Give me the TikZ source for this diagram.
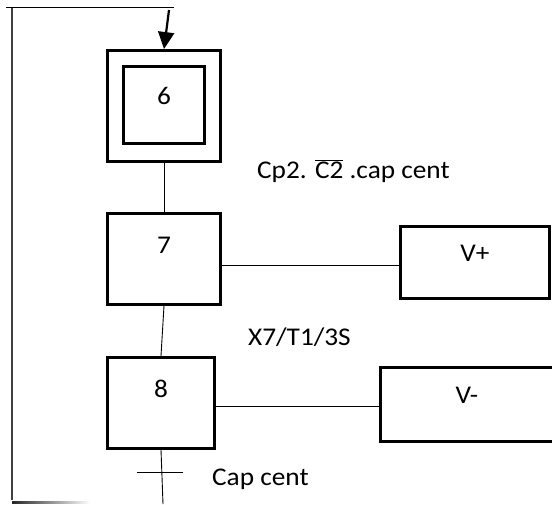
\documentclass[tikz,border=0pt]{standalone}
\usepackage{fontspec}
\setmainfont{Carlito}[FakeStretch=1.07]
\usepackage{tikz}
\usetikzlibrary{positioning,arrows.meta}
\definecolor{cLine}{HTML}{000000}
\definecolor{cLoop}{HTML}{404040}
\tikzset{
  >={Triangle[length=17pt,width=16pt]},
  gbox/.style={draw=cLine,line width=2.9pt,inner sep=0pt,align=center,
               text height=15pt},
  gstep/.style ={gbox,text depth=25pt},
  gact/.style  ={gbox,text depth=17pt},
  glink/.style ={cLine,line width=0.9pt},
  gloop/.style ={cLoop,line width=1.4pt},
}

\begin{document}
\begin{tikzpicture}[x=1pt,y=-1pt,font=\fontsize{25.5}{29}\selectfont]
  \useasboundingbox (0,0) rectangle (552,504);
  % steps
  \node[gbox,minimum width=113pt,minimum height=111pt] (s6) at (164,106) {};
  \node[gbox,text depth=17pt,minimum width=81pt,minimum height=77pt] (in6) at (164,105) {6};
  \node[gstep,minimum width=113pt,minimum height=91pt,below=49pt of s6] (s7) {7};
  \node[gstep,minimum width=107pt,minimum height=91pt,below=50pt of s7,xshift=-3pt] (s8) {8};
  % actions
  \node[gact,minimum width=149pt,minimum height=72pt,right=177pt of s7,yshift=-3.5pt] (vp) {V+};
  \node[gact,minimum width=173pt,minimum height=74pt,right=163pt of s8,yshift=-1.5pt] (vm) {V-};
  % loop back
  \coordinate (lt) at (6,7);
  \coordinate (lc) at (12,7);
  \coordinate (lb) at (12,500);
  \coordinate (rt) at (174,7);
  \coordinate (ar) at (169,10);
  \coordinate (en) at (163,504);
  \coordinate (tr) at (160,472);
  \draw[gloop] (lb)--(lc);
  \draw[glink] (lt)--(rt);
  \draw[->,line width=2.2pt] (ar)--(s6.north);
  \shade[left color=black!85,right color=white] (12,501) rectangle (90,503);
  % links
  \draw[glink] (s6.south)--(s7.north);
  \draw[glink] (s7.south)--(s8.north);
  \draw[glink] (s8.south)--(en);
  \draw[glink] ([yshift=-7pt]s7.east)--([yshift=-3.5pt]vp.west);
  \draw[glink] ([yshift=-4pt]s8.east)--([yshift=-2.5pt]vm.west);
  \draw[glink] ([xshift=-23pt]tr)--([xshift=23pt]tr);
  % receptivities
  \node[anchor=base west,inner sep=0pt] (t67) at (257,178) {Cp2. $\overline{\mbox{C2}}$ .cap cent};
  \node[anchor=base west,inner sep=0pt] (t78) at (248,345) {X7/T1/3S};
  \node[anchor=base west,inner sep=0pt] (t86) at (212,485) {Cap cent};
\end{tikzpicture}
\end{document}
